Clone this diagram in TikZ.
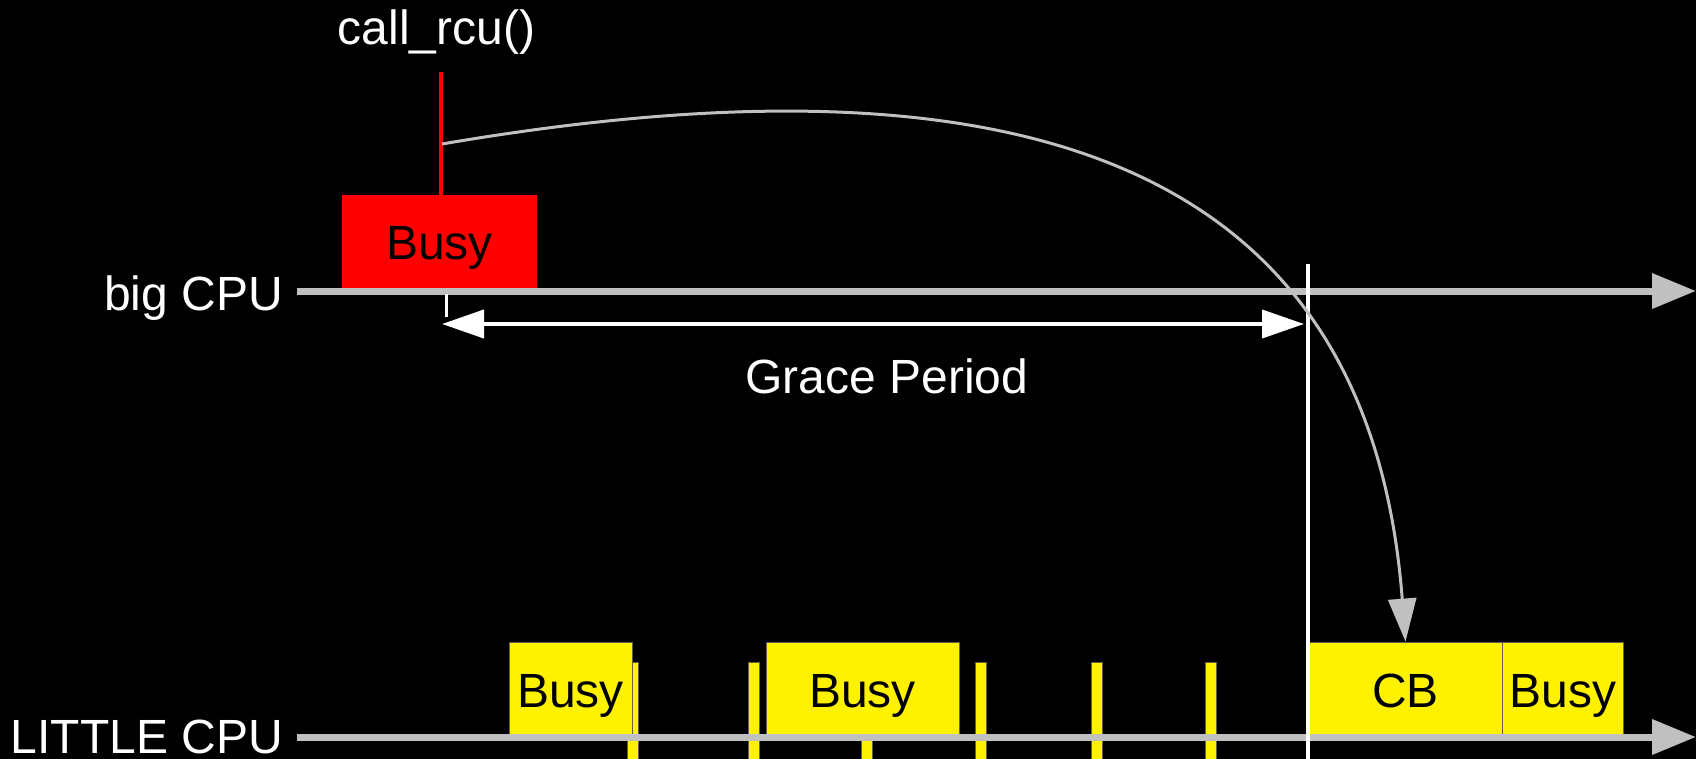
\documentclass[tikz,border=0pt]{standalone}
\usepackage{fontspec}
\setmainfont{Liberation Sans}
\usetikzlibrary{arrows.meta, positioning}
\definecolor{axisgray}{HTML}{C0C0C0}
\newcommand{\bigfont}{\fontsize{48}{54}\selectfont}

\begin{document}
\begin{tikzpicture}[
    x=1pt, y=-1pt,
    lbl/.style = {text=white, font=\bigfont, inner sep=0pt},
    box/.style = {
        rectangle,
        minimum height=95pt,
        inner sep=0pt,
        text height=35pt,
        text depth=0pt,
        font=\bigfont,
        text=black
    },
    bigbox/.style = {box, fill=red},
    lilbox/.style = {box, fill=yellow, draw=black!70!yellow, line width=0.8pt},
    qs/.style = {rectangle, fill=yellow, draw=black!70!yellow, line width=0.8pt,
        minimum width=11pt, minimum height=98pt, inner sep=0pt},
    axis/.style = {line width=7pt, draw=axisgray, -{Triangle[length=44pt, width=34pt]}},
    span/.style = {line width=4pt, white,
        {Triangle[length=42pt, width=28pt]}-{Triangle[length=42pt, width=28pt]}},
    marker/.style = {line width=3.5pt, white},
    rculine/.style = {line width=3.5pt, red},
    cbarrow/.style = {line width=3pt, axisgray, -{Triangle[length=43pt, width=28pt]}}
]

    % background
    \fill[black] (0,0) rectangle (1696,759);
    \useasboundingbox (0,0) rectangle (1696,759);

    % === QUIESCENT STATES ON LITTLE CPU ===
    \foreach \x [count=\i] in {632.5,753.8,867.2,980.5,1096.5,1211}
        \node[qs] (qs\i) at (\x,711) {};

    % === BUSY PERIODS ===
    \node[bigbox, minimum width=195pt] (bigbusy) at (439.5,242.5) {Busy};
    \node[lilbox, minimum width=123pt] (busy1) at (570.5,689.5) {Busy};
    \node[lilbox, minimum width=193pt] (busy2) at (862.5,689.5) {Busy};
    \node[lilbox, minimum width=193pt] (cb) at (1405.5,689.5) {CB};
    \node[lilbox, minimum width=121pt, right=0pt of cb] (busy3) {Busy};

    % === CPU TIMELINES ===
    \node[lbl, anchor=base east] (biglbl) at (283,310) {big CPU};
    \node[lbl, anchor=base east, text depth=0pt] (littlelbl) at (283,753) {LITTLE CPU};
    \coordinate (bigstart) at (297,291);
    \coordinate (bigend) at (1696,291);
    \coordinate (littlestart) at (297,737);
    \coordinate (littleend) at (1696,737);
    \draw[axis] (bigstart) -- (bigend);
    \draw[axis] (littlestart) -- (littleend);

    % === END OF GRACE PERIOD ===
    \coordinate (gpendtop) at (1308,264);
    \coordinate (gpendbot) at (1308,759);
    \draw[marker] (gpendtop) -- (gpendbot);

    % === GRACE PERIOD ===
    \coordinate (gptick) at (446,294);
    \coordinate (gptickend) at (446,317);
    \draw[white, line width=3pt] (gptick) -- (gptickend);
    \coordinate (gpstart) at (442,324);
    \coordinate (gpend) at (1304,324);
    \draw[span] (gpstart) -- (gpend);
    \node[lbl, anchor=base] (grace) at (887,393) {Grace Period};

    % === call_rcu() AND CALLBACK ===
    \node[lbl, anchor=base] (callrcu) at (436.5,45) {call\_rcu()};
    \coordinate (rcutop) at (441,72);
    \draw[rculine] (rcutop) -- (rcutop |- bigbusy.north);
    \coordinate (rcuhook) at (442,144);
    \draw[cbarrow] (rcuhook) .. controls (1050,40) and (1370,180) .. (cb.north);

\end{tikzpicture}
\end{document}
